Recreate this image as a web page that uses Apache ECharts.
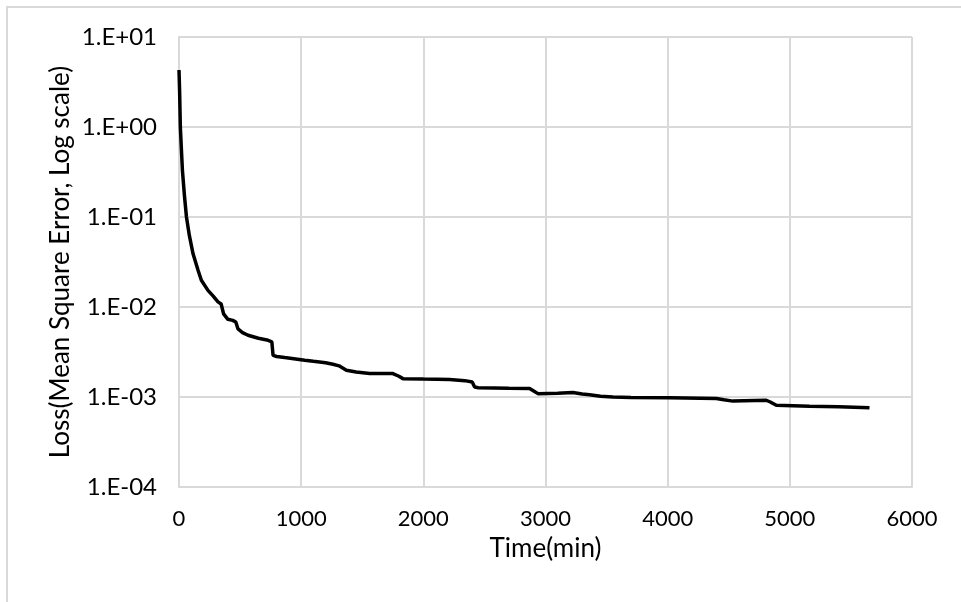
<!DOCTYPE html>
<html>
<head>
<meta charset="utf-8">
<script src="https://cdn.jsdelivr.net/npm/echarts@6/dist/echarts.min.js"></script>
<style>html,body{margin:0;padding:0;background:#fff;}#c{width:961px;height:602px;}</style>
</head>
<body>
<div id="c"></div>
<script>
const timeMin = [0, 5, 11, 20, 28, 45, 61, 85, 115, 156, 183, 237, 280, 319, 345, 365, 400, 440, 465, 483, 520, 565, 650, 720, 760, 770, 800, 865, 1029, 1100, 1200, 1260, 1310, 1370, 1450, 1561, 1751, 1800, 1833, 2000, 2215, 2340, 2400, 2420, 2450, 2700, 2870, 2910, 2938, 3100, 3224, 3300, 3361, 3450, 3552, 3700, 4015, 4398, 4460, 4534, 4807, 4840, 4889, 5161, 5400, 5652];
const loss = [4.3, 2.5, 1.0, 0.55, 0.33, 0.17, 0.10, 0.062, 0.039, 0.0256, 0.0198, 0.0153, 0.0132, 0.0114, 0.0108, 0.0084, 0.0073, 0.0071, 0.0068, 0.0057, 0.0052, 0.00485, 0.0045, 0.0043, 0.0041, 0.0029, 0.00282, 0.00274, 0.00256, 0.00249, 0.0024, 0.00231, 0.00222, 0.00198, 0.0019, 0.00182, 0.00182, 0.0017, 0.0016, 0.00158, 0.00156, 0.00152, 0.00147, 0.00129, 0.00127, 0.00125, 0.00124, 0.00115, 0.00109, 0.00110, 0.00112, 0.00108, 0.00106, 0.00102, 0.00100, 0.00099, 0.00098, 0.00096, 0.00093, 0.00090, 0.00092, 0.00088, 0.00081, 0.00079, 0.00078, 0.00076];
const xTicks = [0, 1000, 2000, 3000, 4000, 5000, 6000];
const xName = 'Time(min)';
const yName = 'Loss(Mean Square Error, Log scale)';

const seriesData = timeMin.map((t, i) => [t, loss[i]]);
const FONT = 'Lato';
const GRID = '#d9d9d9';

function fmtExp(v) {
  const e = Math.round(Math.log10(v));
  const a = Math.abs(e);
  return '1.E' + (e >= 0 ? '+' : '-') + (a < 10 ? '0' : '') + a;
}

const chart = echarts.init(document.getElementById('c'), null, {renderer: 'canvas'});
chart.setOption({
  backgroundColor: '#ffffff',
  animation: false,
  graphic: [{
    type: 'rect',
    shape: {x: 7, y: 7, width: 1000, height: 700},
    style: {fill: 'none', stroke: GRID, lineWidth: 2},
    silent: true
  }],
  grid: {left: 179, right: 49, top: 37, bottom: 115, containLabel: false},
  xAxis: {
    type: 'value',
    min: xTicks[0],
    max: xTicks[xTicks.length - 1],
    interval: 1000,
    name: xName,
    nameLocation: 'middle',
    nameGap: 49,
    nameMoveOverlap: false,
    nameTextStyle: {fontFamily: FONT, fontSize: 26, color: '#000'},
    axisLine: {show: true, lineStyle: {color: GRID, width: 2}},
    axisTick: {show: false},
    axisLabel: {fontFamily: FONT, fontSize: 22, color: '#000', margin: 21, formatter: (v) => String(v)},
    splitLine: {show: true, lineStyle: {color: GRID, width: 2}}
  },
  yAxis: {
    type: 'log',
    logBase: 10,
    min: 1e-4,
    max: 10,
    name: yName,
    nameLocation: 'middle',
    nameRotate: 90,
    nameGap: 105,
    nameMoveOverlap: false,
    nameTextStyle: {fontFamily: FONT, fontSize: 26, color: '#000'},
    axisLine: {show: true, lineStyle: {color: GRID, width: 2}},
    axisTick: {show: false},
    axisLabel: {fontFamily: FONT, fontSize: 24, color: '#000', margin: 22, formatter: fmtExp},
    splitLine: {show: true, lineStyle: {color: GRID, width: 2}}
  },
  series: [{
    type: 'line',
    data: seriesData,
    showSymbol: false,
    symbol: 'none',
    smooth: false,
    lineStyle: {color: '#000', width: 3.5},
    z: 5
  }]
});
</script>
</body>
</html>
